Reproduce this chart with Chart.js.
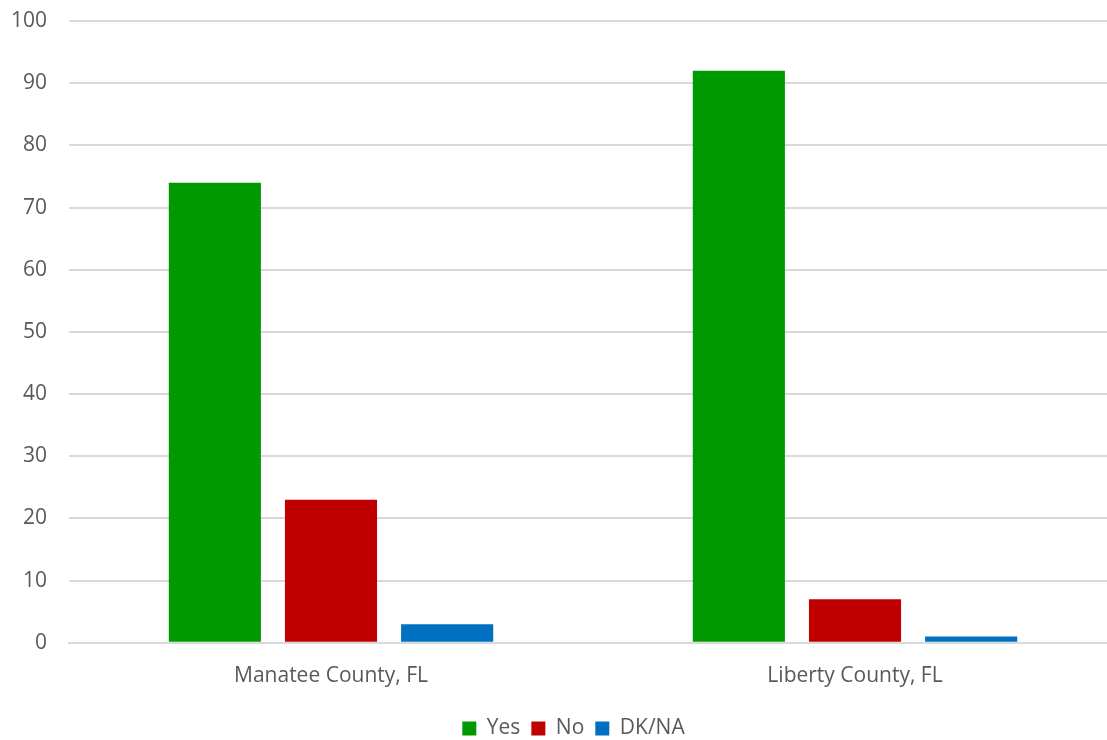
<!DOCTYPE html>
<html>
<head>
<meta charset="utf-8">
<script src="https://cdn.jsdelivr.net/npm/chart.js@4"></script>
<style>
  html, body { margin: 0; padding: 0; background: #fff; overflow: hidden; }
  /* plot runs a little past the right edge, as in the source picture */
  #wrap { width: 1117px; height: 740px; }
</style>
</head>
<body>
<div id="wrap"><canvas id="chart"></canvas></div>
<script>
// === data ===
const categories = ['Manatee County, FL', 'Liberty County, FL'];
const yesValues = [74, 92];
const noValues = [23, 7];
const dkValues = [3, 1];

const textColor = '#595959';
const gridColor = '#d9d9d9';

Chart.defaults.font.family = "'Open Sans', 'Liberation Sans', sans-serif";
Chart.defaults.color = textColor;

// nudge the legend a bit right, the source has it off-centre
const legendShift = {
  id: 'legendShift',
  afterLayout(chart) {
    if (!chart.legend) return;
    chart.legend.left += 15;
    chart.legend.right += 15;
  }
};

new Chart(document.getElementById('chart'), {
  type: 'bar',
  data: {
    labels: categories,
    datasets: [
      { label: 'Yes', data: yesValues, backgroundColor: '#009900' },
      { label: 'No', data: noValues, backgroundColor: '#c00000' },
      { label: 'DK/NA', data: dkValues, backgroundColor: '#0070c0' }
    ]
  },
  options: {
    responsive: true,
    maintainAspectRatio: false,
    animation: false,
    datasets: { bar: { categoryPercentage: 0.665, barPercentage: 0.793 } },
    layout: { padding: { top: 0, right: 0, left: 0, bottom: -9 } },
    plugins: {
      legend: {
        position: 'bottom',
        labels: { boxWidth: 14, boxHeight: 14, padding: 11, font: { size: 21 }, color: textColor }
      },
      tooltip: { enabled: false }
    },
    scales: {
      x: {
        grid: { display: false },
        border: { color: gridColor, width: 2 },
        afterFit: (scale) => { scale.height += 5; },
        ticks: { font: { size: 21 }, color: textColor, padding: 13 }
      },
      y: {
        min: 0, max: 100,
        afterFit: (scale) => {
          scale.width = 69;
          scale.paddingTop = 21;
          scale.paddingBottom = 0;
        },
        ticks: { stepSize: 10, font: { size: 21 }, color: textColor, padding: 22 },
        grid: { color: gridColor, lineWidth: 2, drawTicks: false },
        border: { display: false }
      }
    }
  },
  plugins: [legendShift]
});
</script>
</body>
</html>
